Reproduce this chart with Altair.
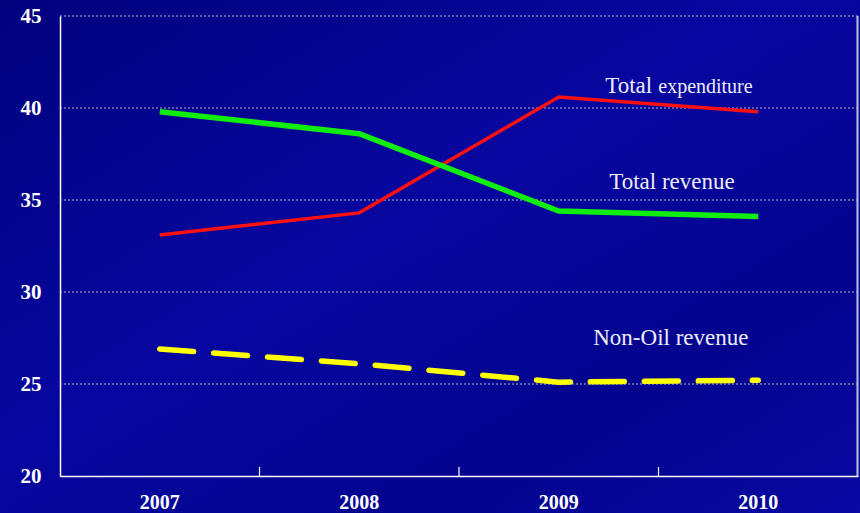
import altair as alt
import pandas as pd

years = ["2007", "2008", "2009", "2010"]
total_expenditure = [33.1, 34.3, 40.6, 39.8]
total_revenue = [39.8, 38.6, 34.4, 34.1]
non_oil_revenue = [26.9, 26.1, 25.1, 25.2]
y_ticks = [20, 25, 30, 35, 40, 45]
grid_values = [25, 30, 35, 40, 45]

series_names = ["Total expenditure", "Total revenue", "Non-Oil revenue"]

rows = []
for name, vals in zip(series_names, [total_expenditure, total_revenue, non_oil_revenue]):
    for y, v in zip(years, vals):
        rows.append({"year": y, "value": v, "series": name})
df = pd.DataFrame(rows)

# annotation labels: (text, year anchor, value anchor)
label_text = ["Total", "expenditure", "Total revenue", "Non-Oil revenue"]
label_year = ["2010", "2010", "2010", "2010"]
label_value = [40.8, 40.8, 35.6, 27.1]
label_dx = [-153, -100, -149, -165]
label_size = [23, 20, 23, 23]
labels = pd.DataFrame({"text": label_text, "year": label_year, "value": label_value,
                       "dx": label_dx, "size": label_size})

tick_years = pd.DataFrame({"year": ["2008", "2009", "2010"]})
grid_df = pd.DataFrame({"value": grid_values})

W, H = 798, 460
xscale = alt.Scale(domain=years, paddingInner=0, paddingOuter=0)
yscale = alt.Scale(domain=[20, 45], nice=False, zero=False)

x_enc = alt.X("year:N", scale=xscale, sort=years,
              axis=alt.Axis(title=None, labelAngle=0, ticks=False, domainColor="white",
                            domainWidth=1.5, labelColor="white", labelFont="Liberation Serif",
                            labelFontWeight="bold", labelFontSize=20, labelPadding=16, grid=False,
                            zindex=1))
y_enc = alt.Y("value:Q", scale=yscale,
              axis=alt.Axis(title=None, values=y_ticks, ticks=False,
                            domainColor="white", domainWidth=1.5, labelColor="white",
                            labelFont="Liberation Serif", labelFontWeight="bold", labelFontSize=21,
                            labelPadding=19, grid=False, zindex=1))

base = alt.Chart(df)

bg = alt.Chart(tick_years.iloc[[0]]).mark_rect(
    clip=False,
    fill=alt.Gradient(gradient="linear", x1=0, y1=0, x2=1, y2=1,
                      stops=[alt.GradientStop(offset=0, color="#02027f"),
                             alt.GradientStop(offset=0.45, color="#0707a0"),
                             alt.GradientStop(offset=0.75, color="#04048f"),
                             alt.GradientStop(offset=1, color="#0808a2")])).encode(
    x=alt.value(-60), x2=alt.value(W + 2), y=alt.value(-16), y2=alt.value(H + 37))

grid = alt.Chart(grid_df).mark_rule(color="#b4b4c4", strokeWidth=1, strokeDash=[2, 2]).encode(
    y=alt.Y("value:Q", scale=yscale), x=alt.value(0), x2=alt.value(W))

red = base.transform_filter(alt.datum.series == "Total expenditure").mark_line(
    color="#ff1010", strokeWidth=3.5).encode(x=x_enc, y=y_enc)
green = base.transform_filter(alt.datum.series == "Total revenue").mark_line(
    color="#10ee10", strokeWidth=5.5).encode(x=alt.X("year:N", scale=xscale, sort=years),
                                            y=alt.Y("value:Q", scale=yscale))
yellow = base.transform_filter(alt.datum.series == "Non-Oil revenue").mark_line(
    color="#ffff00", strokeWidth=5.5, strokeDash=[34, 20], strokeCap="round").encode(
    x=alt.X("year:N", scale=xscale, sort=years), y=alt.Y("value:Q", scale=yscale))

ticks = alt.Chart(tick_years).mark_rule(color="white", strokeWidth=1.2).encode(
    x=alt.X("year:N", scale=xscale, sort=years, bandPosition=0),
    y=alt.value(H - 9), y2=alt.value(H))

right_border = alt.Chart(tick_years).mark_rule(color="#b8b8d8", strokeWidth=1.5).encode(
    x=alt.value(W - 0.5), y=alt.value(0), y2=alt.value(H))

layers = []
for i in range(len(labels)):
    layers.append(alt.Chart(labels.iloc[[i]]).mark_text(
        font="Liberation Serif", color="#ececfa", align="left", baseline="alphabetic",
        dx=int(labels.dx[i]), fontSize=int(labels["size"][i])).encode(
        x=alt.X("year:N", scale=xscale, sort=years),
        y=alt.Y("value:Q", scale=yscale),
        text="text:N"))

chart = alt.layer(bg, grid, red, green, yellow, ticks, right_border, *layers).properties(
    width=W, height=H, background="#04048f",
    autosize=alt.AutoSizeParams(type="none"),
    padding={"left": 60, "top": 16, "right": 2, "bottom": 37},
).configure_view(stroke=None)

chart.save("out.html", embed_options={"renderer": "svg", "actions": False})
